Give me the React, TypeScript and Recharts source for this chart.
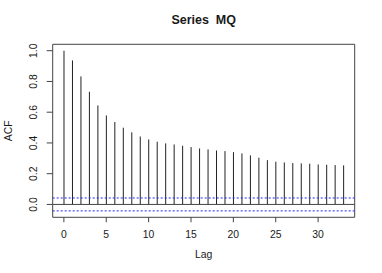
import React from 'react';
import { ComposedChart, Bar, XAxis, YAxis, ReferenceLine, ReferenceArea } from 'recharts';

const lags = [0, 1, 2, 3, 4, 5, 6, 7, 8, 9, 10, 11, 12, 13, 14, 15, 16, 17, 18, 19, 20, 21, 22, 23, 24, 25, 26, 27, 28, 29, 30, 31, 32, 33];
const acfValues = [1.0, 0.937, 0.833, 0.733, 0.644, 0.579, 0.536, 0.499, 0.469, 0.442, 0.423, 0.408, 0.397, 0.390, 0.382, 0.373, 0.364, 0.358, 0.351, 0.347, 0.340, 0.332, 0.319, 0.304, 0.288, 0.278, 0.273, 0.269, 0.267, 0.265, 0.260, 0.258, 0.256, 0.254];
const ciBound = 0.042;
const xTicks = [0, 5, 10, 15, 20, 25, 30];
const yTicks = [0, 0.2, 0.4, 0.6, 0.8, 1.0];
const title = 'Series  MQ';
const xLabel = 'Lag';
const yLabel = 'ACF';

const xDomain: [number, number] = [-1.32, 34.32];
const yDomain: [number, number] = [-0.0837, 1.0417];

const data = lags.map((lag, i) => ({ lag, acf: acfValues[i] }));

const FONT = '"Liberation Sans", Arial, Helvetica, sans-serif';
const TEXT = '#1a1a1a';
const LINE = '#444';

const Stem = (props: any) => {
  const { x, y, width, height } = props;
  const cx = x + width / 2;
  return <line x1={cx} x2={cx} y1={y} y2={y + height} stroke="#222" strokeWidth={1} />;
};

const YTick = (props: any) => {
  const { x, y, payload } = props;
  return (
    <text x={x} y={y} transform={`rotate(-90 ${x} ${y})`} textAnchor="middle" fontSize={10.4} fontFamily={FONT} fill={TEXT}>
      {Number(payload.value).toFixed(1)}
    </text>
  );
};

const XTick = (props: any) => {
  const { x, y, payload } = props;
  return (
    <text x={x} y={y} dy={7.5} textAnchor="middle" fontSize={10.4} fontFamily={FONT} fill={TEXT}>
      {payload.value}
    </text>
  );
};

export default function App() {
  return (
    <div style={{ position: 'absolute', left: 0, top: 0, width: 382, height: 273, background: '#fff' }}>
      <svg width={382} height={30} style={{ position: 'absolute', left: 0, top: 0 }}>
        <text x={203.7} y={24.3} textAnchor="middle" fontSize={12.5} fontWeight="bold" fontFamily={FONT} fill={TEXT} style={{ whiteSpace: 'pre' }}>
          {title}
        </text>
      </svg>
      <ComposedChart
        width={382}
        height={273}
        data={data}
        margin={{ top: 44.3, right: 27.3, left: 0, bottom: 0 }}
        style={{ position: 'absolute', left: 0, top: 0 }}
      >
        <XAxis
          type="number"
          dataKey="lag"
          domain={xDomain}
          ticks={xTicks}
          allowDataOverflow
          axisLine={false}
          tickLine={{ stroke: LINE }}
          tickSize={5}
          tickMargin={8}
          height={55.7}
          tick={<XTick />}
          label={{
            content: (p: any) => {
              const vb = p.viewBox;
              return (
                <text x={vb.x + vb.width / 2} y={vb.y + vb.height - 15.5} textAnchor="middle" fontSize={10.4} fontFamily={FONT} fill={TEXT}>
                  {xLabel}
                </text>
              );
            },
          }}
        />
        <YAxis
          type="number"
          domain={yDomain}
          ticks={yTicks}
          allowDataOverflow
          axisLine={false}
          tickLine={{ stroke: LINE }}
          tickSize={6}
          tickMargin={10}
          width={52.7}
          tick={<YTick />}
          label={{
            content: (p: any) => {
              const vb = p.viewBox;
              const cx = 11.7;
              const cy = vb.y + vb.height / 2;
              return (
                <text x={cx} y={cy} transform={`rotate(-90 ${cx} ${cy})`} textAnchor="middle" fontSize={10.4} fontFamily={FONT} fill={TEXT}>
                  {yLabel}
                </text>
              );
            },
          }}
        />
        <ReferenceArea x1={xDomain[0]} x2={xDomain[1]} y1={yDomain[0]} y2={yDomain[1]} fill="none" stroke={LINE} strokeWidth={1} ifOverflow="visible" />
        <ReferenceLine y={0} stroke={LINE} strokeWidth={1} />
        <ReferenceLine y={ciBound} stroke="#2222ff" strokeWidth={1} strokeDasharray="2 2" />
        <ReferenceLine y={-ciBound} stroke="#2222ff" strokeWidth={1} strokeDasharray="2 2" />
        <Bar dataKey="acf" shape={<Stem />} isAnimationActive={false} />
      </ComposedChart>
    </div>
  );
}
